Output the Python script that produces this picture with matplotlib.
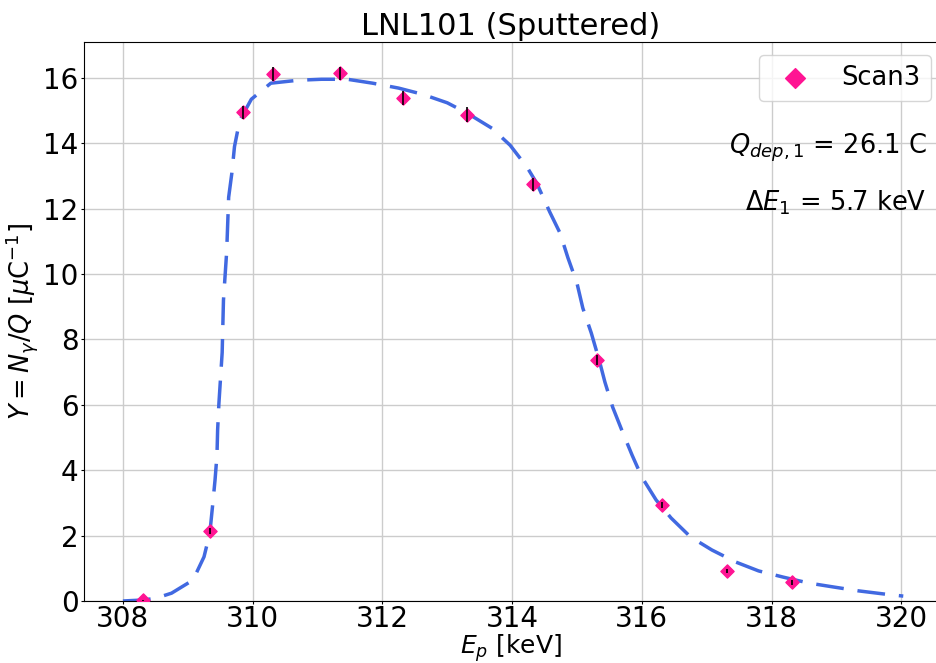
import matplotlib
matplotlib.use('Agg')
import matplotlib.pyplot as plt
import numpy as np

# measured yield, Scan3
ep = [308.31, 309.34, 309.85, 310.32, 311.34, 312.32, 313.31, 314.32, 315.31, 316.31, 317.31, 318.31]
yld = [0.02, 2.14, 14.95, 16.12, 16.15, 15.38, 14.88, 12.75, 7.38, 2.94, 0.92, 0.57]
yerr = [0.02, 0.08, 0.2, 0.2, 0.2, 0.22, 0.23, 0.2, 0.15, 0.1, 0.05, 0.08]

# fitted yield curve
fit_ep = [308.0, 308.3, 308.5, 308.75, 309.08, 309.25, 309.34, 309.38, 309.42, 309.45, 309.46,
          309.48, 309.53, 309.55, 309.6, 309.63, 309.68, 309.72, 309.8, 309.98, 310.28, 310.7,
          311.06, 311.46, 311.85, 312.25, 312.62, 313.0, 313.31, 313.69, 313.97, 314.23, 314.38,
          314.58, 314.74, 314.86, 315.0, 315.09, 315.22, 315.35, 315.43, 315.55, 315.69, 315.85,
          316.0, 316.22, 316.45, 316.75, 317.08, 317.45, 317.8, 318.18, 318.57, 318.95, 319.34,
          319.75, 320.03]
fit_y = [0.0, 0.03, 0.08, 0.24, 0.64, 1.35, 2.08, 2.87, 3.7, 4.46, 5.23,
         6.05, 7.6, 9.2, 10.7, 12.35, 13.1, 13.9, 14.7, 15.35, 15.84, 15.93,
         15.96, 15.96, 15.84, 15.69, 15.5, 15.24, 14.92, 14.46, 13.94, 13.27, 12.78,
         11.9, 11.25, 10.5, 9.72, 8.96, 8.2, 7.31, 6.7, 5.93, 5.23, 4.46,
         3.79, 3.09, 2.54, 1.96, 1.56, 1.19, 0.92, 0.73, 0.55, 0.43, 0.31,
         0.21, 0.15]

fig = plt.figure(figsize=(9.37, 6.63), dpi=100)
ax = fig.add_axes([84 / 937, 62 / 663, 853 / 937, 559 / 663])

ax.plot(fit_ep, fit_y, color='royalblue', linestyle=(0, (8, 4)), linewidth=2.5, zorder=2)
ax.scatter(ep, yld, marker='D', color='deeppink', s=45, zorder=3, label='Scan3')
ax.errorbar(ep, yld, yerr=yerr, fmt='none', ecolor='black', elinewidth=1.2, zorder=4)

ax.set_xlim(307.4, 320.55)
ax.set_ylim(0, 17.1)
ax.set_xticks(np.arange(308, 321, 2))
ax.set_yticks(np.arange(0, 17, 2))
ax.tick_params(labelsize=20, length=2, pad=2)
ax.tick_params(axis='x', pad=1)
ax.grid(color='#cccccc', linewidth=1)
ax.set_axisbelow(True)

ax.set_title('LNL101 (Sputtered)', fontsize=22, pad=5)
ax.set_xlabel(r'$E_p$ [keV]', fontsize=18, labelpad=-0.5)
ax.set_ylabel(r'$Y = N_{\gamma}/Q$ [$\mu$C$^{-1}$]', fontsize=18.5, labelpad=2)

ax.text(0.988, 0.81, r'$Q_{dep,1}$ = 26.1 C', transform=ax.transAxes,
        ha='right', va='center', fontsize=18.5)
ax.text(0.988, 0.712, r'$\Delta E_1$ = 5.7 keV', transform=ax.transAxes,
        ha='right', va='center', fontsize=18.5)

ax.legend(loc='upper right', fontsize=18.5, markerscale=1.5, borderaxespad=0,
          bbox_to_anchor=(0.993, 0.977))

fig.savefig('out.png', dpi=100)
